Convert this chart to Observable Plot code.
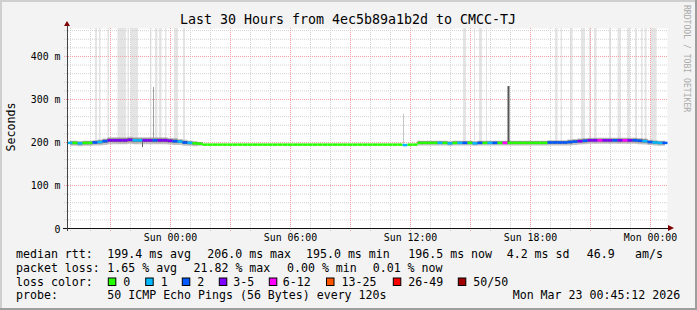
<!DOCTYPE html>
<html><head><meta charset="utf-8">
<script src="https://cdn.jsdelivr.net/npm/d3@7"></script>
<script src="https://cdn.jsdelivr.net/npm/@observablehq/plot@0.6"></script>
<style>
html,body{margin:0;padding:0;background:#f3f3f3;}
svg{display:block;}
</style></head><body><div id="chart"></div>
<script>
// ---------- DATA ----------
const titleText = "Last 30 Hours from 4ec5b89a1b2d to CMCC-TJ";
const yLabelText = "Seconds";
const watermarkText = "RRDTOOL / TOBI OETIKER";
// time in hours relative to Sun 00:00
const xTickHours = [0, 6, 12, 18, 24];
const xTickLabels = ["Sun 00:00", "Sun 06:00", "Sun 12:00", "Sun 18:00", "Mon 00:00"];
const yTickValues = [0, 100, 200, 300, 400];
const yTickLabels = ["0", "100 m", "200 m", "300 m", "400 m"];
// median RTT (ms), one value per 15 minutes from Sat 19:00 (-5 h)
const medianMs = [
  199,199,198,199,199,200,201,203,205,205,
  205,205,206,205,205,205,205,205,205,205,
  204,203,202,200,199,198,197,195,195,195,
  195,195,195,195,195,195,195,195,195,195,
  195,195,195,195,195,195,195,195,195,195,
  195,195,195,195,195,195,195,195,195,195,
  195,195,195,195,195,195,195,194,195,195,
  199,199,199,199,199,199,198,199,199,199,
  199,198,199,199,199,199,199,199,199,199,
  199,199,199,199,199,199,200,200,200,200,
  201,202,203,204,205,205,205,205,205,205,
  205,205,205,205,204,203,201,200,199,199
];
// loss class index (0:"0", 1:"1", 2:"2", 3:"3-5", 4:"6-12", ...)
const lossClass = [
  1,0,1,0,0,2,1,2,3,3,
  3,3,3,1,1,3,3,2,3,3,
  3,2,1,2,1,0,0,0,0,0,
  0,0,0,0,0,0,0,0,0,0,
  0,0,0,0,0,0,0,0,0,0,
  0,0,0,0,0,0,0,0,0,0,
  0,0,0,0,0,0,0,1,0,0,
  0,0,0,0,1,0,1,0,1,2,
  0,1,2,0,1,2,0,4,0,0,
  0,0,0,0,0,0,2,2,2,2,
  2,2,3,2,3,3,4,3,3,2,
  3,4,3,2,2,1,2,1,1,2
];
// smoke extent below / above the median (ms)
const smokeBelowMs = [
  8,8,8,8,8,8,9,10,10,10,
  10,10,10,10,10,10,10,10,10,10,
  10,10,9,9,8,8,6,0,0,0,
  0,0,0,0,0,0,0,0,0,0,
  0,0,0,0,0,0,0,0,0,0,
  0,0,0,0,0,0,0,0,0,0,
  0,0,0,0,0,0,0,0,0,0,
  7,7,7,7,7,7,7,7,7,7,
  7,7,7,7,7,7,7,7,7,7,
  7,7,7,7,7,7,8,8,8,8,
  9,9,9,9,9,9,9,9,9,9,
  9,9,9,9,9,9,8,8,8,8
];
const smokeAboveMs = [
  4,4,4,4,4,4,5,5,6,6,
  6,6,6,6,6,6,6,6,6,6,
  6,6,5,5,4,4,3,0,0,0,
  0,0,0,0,0,0,0,0,0,0,
  0,0,0,0,0,0,0,0,0,0,
  0,0,0,0,0,0,0,0,0,0,
  0,0,0,0,0,0,0,0,0,0,
  4,4,4,4,4,4,4,4,4,4,
  4,4,4,4,4,4,4,4,4,4,
  4,4,4,4,4,4,4,4,4,4,
  5,5,5,5,5,5,5,5,5,5,
  5,5,5,5,5,5,4,4,4,4
];
// light smoke bars reaching the top (hours)
const barStart = [-3.75,-3.55,-3.13,-2.63,-2.13,-1.97,-1.0,-0.75,-0.55,-0.25,0.2,0.65,
  14.65,15.2,15.45,15.8,19.25,19.53,20.0,20.55,20.95,21.2,21.95,22.38,22.85,23.25,23.55,23.73,24.03];
const barEnd = [-3.65,-3.47,-3.05,-2.2,-2.05,-1.6,-0.93,-0.63,-0.42,-0.18,0.4,0.75,
  14.8,15.25,15.6,15.85,19.38,19.6,20.13,20.75,21.05,21.33,22.05,22.55,23.0,23.35,23.63,23.83,24.33];
// isolated ping spikes
const spikeHours = [-1.4, -0.85, 11.65, 16.9];
const spikeBase = [203, 205, 196, 200];
const spikeTop = [188, 328, 266, 330];

const rowLabels = ["median rtt:", "packet loss:", "loss color:", "probe:"];
const rttStats = ["199.4 ms avg", "206.0 ms max", "195.0 ms min", "196.5 ms now", "4.2 ms sd", "46.9", "am/s"];
const lossStats = ["1.65 % avg", "21.82 % max", "0.00 % min", "0.01 % now"];
const lossLabels = ["0", "1", "2", "3-5", "6-12", "13-25", "26-49", "50/50"];
const probeText = "50 ICMP Echo Pings (56 Bytes) every 120s";
const stampText = "Mon Mar 23 00:45:12 2026";

// ---------- STYLE / LAYOUT ----------
const lossPalette = ["#26ff00","#00b8ff","#0059ff","#7e00ff","#ff00ff","#ff5500","#ff0000","#a10000"];
const spikeShade = ["#666666", "#a0a0a0", "#c8c8c8", "#555555"];
const spikeWidth = [1, 1, 1, 2];
const FONT = "DejaVu Sans Mono";
const sampleHours = d3.range(medianMs.length).map(i => -5 + 0.25 * i);
const idx = d3.range(medianMs.length);
const barIdx = d3.range(barStart.length);
const spikeIdx = d3.range(spikeHours.length);
const minorHours = d3.range(-5, 25).filter(h => h % 3 !== 0);
const majorHours = d3.range(-3, 25, 3);
const minorMs = d3.range(20, 465, 20).filter(v => v % 100 !== 0);
const majorMs = [100, 200, 300, 400];

const svg = Plot.plot({
  width: 697, height: 310,
  marginLeft: 67, marginRight: 30, marginTop: 28, marginBottom: 82,
  x: {domain: [-5.15, 24.85], axis: null},
  y: {domain: [0, 465], axis: null},
  color: {type: "identity"},
  style: {background: "#f3f3f3", fontFamily: FONT, color: "#000", overflow: "visible"},
  marks: [
    Plot.frame({fill: "white", stroke: null}),
    Plot.rect(barIdx, {x1: i => barStart[i], x2: i => barEnd[i], y1: () => 196, y2: () => 465, fill: "#e4e4e4"}),
    Plot.ruleX(minorHours, {stroke: "#d2d2d2", strokeDasharray: "1,1", insetBottom: -3}),
    Plot.ruleY(minorMs, {stroke: "#d2d2d2", strokeDasharray: "1,1", insetLeft: -3}),
    Plot.ruleX(majorHours, {stroke: "#f4a0a0", strokeDasharray: "1,1", insetBottom: -3}),
    Plot.ruleY(majorMs, {stroke: "#f4a0a0", strokeDasharray: "1,1", insetLeft: -3}),
    Plot.areaY(idx, {x: i => sampleHours[i], y1: i => medianMs[i] - smokeBelowMs[i], y2: i => medianMs[i] + smokeAboveMs[i],
      curve: "step", fill: "#a8a8a8", fillOpacity: 0.7}),
    Plot.areaY(idx, {x: i => sampleHours[i], y1: i => medianMs[i] - smokeBelowMs[i] / 2, y2: i => medianMs[i] + smokeAboveMs[i] / 2,
      curve: "step", fill: "#5a5a5a", fillOpacity: 0.7}),
    Plot.ruleX(spikeIdx, {x: i => spikeHours[i], y1: i => spikeBase[i], y2: i => spikeTop[i],
      stroke: i => spikeShade[i], strokeWidth: i => spikeWidth[i]}),
    Plot.ruleY(idx, {y: i => medianMs[i], x1: i => sampleHours[i] - 0.125, x2: i => sampleHours[i] + 0.125,
      stroke: i => lossPalette[lossClass[i]], strokeWidth: 2.5}),
    Plot.ruleY([0], {stroke: "#111", insetLeft: -4, insetRight: -1}),
    Plot.ruleX([-5.15], {stroke: "#444", insetTop: -3, insetBottom: -3}),
    Plot.text(xTickHours, {x: d => d, frameAnchor: "bottom", dy: 12.7, lineAnchor: "bottom",
      text: (d, i) => xTickLabels[i], fontSize: 9.9, fill: "#000"}),
    Plot.text(yTickValues, {y: d => d, frameAnchor: "left", dx: -7, dy: 4, lineAnchor: "bottom", textAnchor: "end",
      text: (d, i) => yTickLabels[i], fontSize: 9.9, fill: "#000"})
  ]
});

const s = d3.select(svg);
const g = s.append("g").attr("font-family", FONT).attr("fill", "#000").attr("text-anchor", "start");
function txt(x, y, str, size, extra) {
  const t = g.append("text").attr("x", x).attr("y", y).attr("font-size", size)
    .attr("text-anchor", "start").style("white-space", "pre").text(str);
  if (extra) extra(t);
  return t;
}
// arrows
g.append("path").attr("d", "M668,225 L674,228 L668,231 Z").attr("fill", "#7f0000");
g.append("path").attr("d", "M64,26 L67,21 L70,26 Z").attr("fill", "#7f0000");
// title, labels
txt(348, 24, titleText, 13.3, t => t.attr("text-anchor", "middle"));
txt(0, 0, yLabelText, 11.6, t => t.attr("text-anchor", "middle").attr("transform", "translate(15,127) rotate(-90)"));
txt(0, 0, watermarkText, 8.1, t => t.attr("fill", "#aaaaaa").attr("transform", "translate(684,5) rotate(90)"));
// legend rows
const FS = 11.6;
const rowY = [258.3, 272, 285.7, 299.4];
rowLabels.forEach((l, i) => txt(16, rowY[i], l, FS));
const rttX = [107.3, 207.3, 306, 408.3, 506.7, 586.7, 635];
rttStats.forEach((l, i) => txt(rttX[i], rowY[0], l, FS));
const lossX = [107.3, 193.5, 287, 372.7];
lossStats.forEach((l, i) => txt(lossX[i], rowY[1], l, FS));
const boxX = [108.3, 145.7, 182.3, 219.3, 269.3, 326.5, 393.3, 458.3];
const labX = [123.3, 160.7, 197.3, 233.3, 282.7, 341.5, 408.3, 473.3];
lossLabels.forEach((l, i) => {
  g.append("rect").attr("x", boxX[i]).attr("y", 278).attr("width", 7.5).attr("height", 7.5)
    .attr("fill", lossPalette[i]).attr("stroke", "#000").attr("stroke-width", 1);
  txt(labX[i], rowY[2], l, FS);
});
txt(107.3, rowY[3], probeText, FS);
txt(512.7, rowY[3], stampText, FS);
// 3D frame
g.append("rect").attr("x", 0).attr("y", 0).attr("width", 697).attr("height", 2).attr("fill", "#cfcfcf");
g.append("rect").attr("x", 0).attr("y", 0).attr("width", 2).attr("height", 310).attr("fill", "#cfcfcf");
g.append("rect").attr("x", 695).attr("y", 0).attr("width", 2).attr("height", 310).attr("fill", "#9e9e9e");
g.append("rect").attr("x", 0).attr("y", 308).attr("width", 697).attr("height", 2).attr("fill", "#9e9e9e");

document.getElementById("chart").append(svg);
</script></body></html>
